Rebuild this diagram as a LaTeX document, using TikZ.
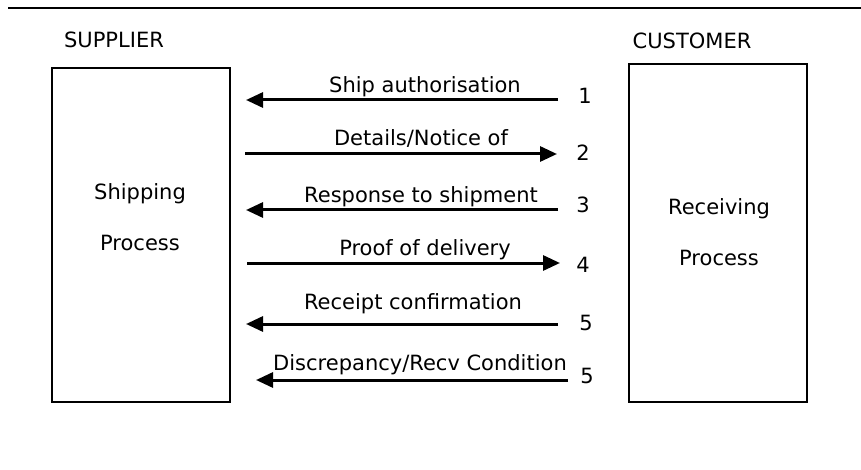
\documentclass[tikz,border=0pt]{standalone}
\usepackage{fontspec}
\setmainfont{DejaVu Sans}
\usetikzlibrary{arrows.meta}
\begin{document}
\begin{tikzpicture}[x=0.5pt,y=-0.5pt,
	font=\fontsize{10.5}{12.6}\selectfont,
	box/.style={draw, line width=0.65pt, inner sep=0pt},
	txt/.style={anchor=base, inner sep=0pt},
	flow/.style={line width=1.5pt, -{Triangle[length=8.5pt,width=7.5pt]}}]
	\useasboundingbox (0,0) rectangle (861,470);
	\draw[line width=1pt] (8,8) -- (861,8);
	% the two sides
	\node (SUP) at (114, 48)	[txt]	{SUPPLIER};
	\node (CUS) at (692, 49)	[txt]	{CUSTOMER};
	\node (SB) at (141,235)	[box, minimum width=89pt, minimum height=167pt]	{};
	\node (CB) at (718,233)	[box, minimum width=89pt, minimum height=169pt]	{};
	\node (SB1) at (140,199)	[txt]	{Shipping};
	\node (SB2) at (140,250)	[txt]	{Process};
	\node (CB1) at (719,214)	[txt]	{Receiving};
	\node (CB2) at (719,265)	[txt]	{Process};
	% messages
	\node (M1) at (425, 93)	[txt]	{Ship authorisation};
	\node (M2) at (421,146)	[txt]	{Details/Notice of};
	\node (M3) at (421,203)	[txt]	{Response to shipment};
	\node (M4) at (425,256)	[txt]	{Proof of delivery};
	\node (M5) at (413,309)	[txt]	{Receipt confirmation};
	\node (M6) at (420,370)	[txt]	{Discrepancy/Recv Condition};
	\node (N1) at (585,104)	[txt]	{1};
	\node (N2) at (583,161)	[txt]	{2};
	\node (N3) at (583,213)	[txt]	{3};
	\node (N4) at (583,272)	[txt]	{4};
	\node (N5) at (586,330)	[txt]	{5};
	\node (N6) at (587,383)	[txt]	{5};
	\coordinate (R1) at (558,100);	\coordinate (L1) at (246,100);
	\coordinate (L2) at (245,154);	\coordinate (R2) at (557,154);
	\coordinate (R3) at (558,210);	\coordinate (L3) at (246,210);
	\coordinate (L4) at (247,263);	\coordinate (R4) at (560,263);
	\coordinate (R5) at (558,324);	\coordinate (L5) at (246,324);
	\coordinate (R6) at (568,380);	\coordinate (L6) at (256,380);
	\draw[flow] (R1) -- (L1);
	\draw[flow] (L2) -- (R2);
	\draw[flow] (R3) -- (L3);
	\draw[flow] (L4) -- (R4);
	\draw[flow] (R5) -- (L5);
	\draw[flow] (R6) -- (L6);
\end{tikzpicture}
\end{document}
